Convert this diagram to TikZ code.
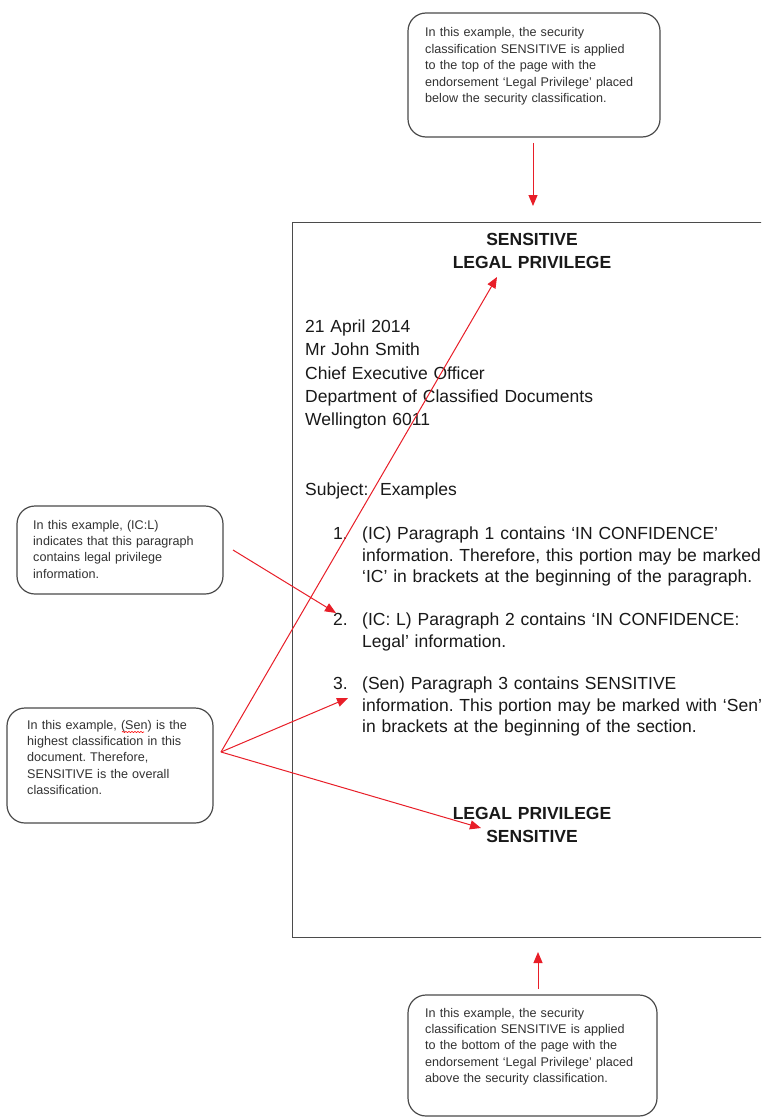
\documentclass[tikz,border=0pt]{standalone}
\usepackage{fontspec}
\setmainfont{Liberation Sans}
\usetikzlibrary{arrows.meta,decorations.pathmorphing}

\definecolor{arrowred}{RGB}{232,30,40}
\definecolor{boxline}{RGB}{75,75,75}
\definecolor{notetext}{RGB}{50,50,50}
\definecolor{bodytext}{RGB}{25,25,25}

\begin{document}
\frenchspacing
\begin{tikzpicture}[x=1pt,y=-1pt,
  note/.style={draw=boxline, line width=1.2pt, rounded corners=18pt, inner sep=0pt},
  notetxt/.style={anchor=base west, inner sep=0pt, align=left, text width=300pt,
    text=notetext, font=\fontsize{12.6}{16.4}\selectfont},
  body/.style={anchor=base west, inner sep=0pt, align=left, text width=440pt,
    text=bodytext, font=\fontsize{17.5}{23.3}\selectfont},
  listtxt/.style={body, font=\fontsize{17.5}{21.6}\selectfont},
  marking/.style={anchor=base, inner sep=0pt, align=center, text width=300pt,
    text=bodytext, font=\fontsize{17.5}{23}\selectfont\bfseries},
  pageframe/.style={draw=boxline, line width=1.3pt, inner sep=0pt, anchor=north west},
  redarrow/.style={draw=arrowred, line width=1pt, -{Triangle[length=11pt,width=9pt]}},
]
\useasboundingbox (0,0) rectangle (761,1118);
\fill[white] (0,0) rectangle (761,1118);
\clip (0,0) rectangle (761,1118);

% the letter page, running off the right edge
\node[pageframe, minimum width=490pt, minimum height=715pt] (page) at (292,222) {};

% security classification and endorsement at the top
\node[marking] (topmark) at (532,245) {SENSITIVE\\LEGAL PRIVILEGE};

% address block
\node[body] (address) at (305,332.5) {21 April 2014\\Mr John Smith\\Chief Executive Officer\\Department of Classified Documents\\Wellington 6011};

\node[body] (subject) at (305,495.5) {Subject:\ \ Examples};

% numbered paragraphs
\node[body] (num1) at (333,539.5) {1.};
\node[listtxt] (para1) at (362,539.5) {(IC) Paragraph 1 contains ‘IN CONFIDENCE’\\information. Therefore, this portion may be marked\\‘IC’ in brackets at the beginning of the paragraph.};
\node[body] (num2) at (333,625.5) {2.};
\node[listtxt] (para2) at (362,625.5) {(IC: L) Paragraph 2 contains ‘IN CONFIDENCE:\\Legal’ information.};
\node[body] (num3) at (333,689.5) {3.};
\node[listtxt] (para3) at (362,689.5) {(Sen) Paragraph 3 contains SENSITIVE\\information. This portion may be marked with ‘Sen’\\in brackets at the beginning of the section.};

% endorsement and classification at the bottom
\node[marking] (botmark) at (532,819) {LEGAL PRIVILEGE\\SENSITIVE};

% explanatory callouts
\node[note, minimum width=252pt, minimum height=124pt] (topnote) at (534,75) {};
\node[notetxt] (topnotetext) at (425,37) {In this example, the security\\classification SENSITIVE is applied\\to the top of the page with the\\endorsement ‘Legal Privilege’ placed\\below the security classification.};

\node[note, minimum width=206pt, minimum height=88pt] (icnote) at (120,550) {};
\node[notetxt] (icnotetext) at (33,529) {In this example, (IC:L)\\indicates that this paragraph\\contains legal privilege\\information.};

\node[note, minimum width=206pt, minimum height=115pt] (sennote) at (110,765.5) {};
\node[notetxt] (sennotetext) at (27,729) {In this example, (Sen) is the\\highest classification in this\\document. Therefore,\\SENSITIVE is the overall\\classification.};

\node[note, minimum width=249pt, minimum height=121pt] (botnote) at (532.5,1055.5) {};
\node[notetxt] (botnotetext) at (425,1017) {In this example, the security\\classification SENSITIVE is applied\\to the bottom of the page with the\\endorsement ‘Legal Privilege’ placed\\above the security classification.};

% spell-check squiggle under "Sen"
\coordinate (senL) at (122,732);
\coordinate (senR) at (144,732);
\draw[red, line width=0.6pt, decorate, decoration={snake, amplitude=0.6pt, segment length=3pt}] (senL) -- (senR);

% arrow end points
\coordinate (topfrom) at (533,143);
\coordinate (topto) at (533,206);
\coordinate (botfrom) at (538,989);
\coordinate (botto) at (538,952);
\coordinate (icfrom) at (233,550);
\coordinate (icto) at (336,613);
\coordinate (senfrom) at (221,752);
\coordinate (hdrto) at (497,277);
\coordinate (p3to) at (348,698);
\coordinate (ftrto) at (481,828);

\draw[redarrow] (topfrom) -- (topto);
\draw[redarrow] (botfrom) -- (botto);
\draw[redarrow] (icfrom) -- (icto);
\draw[redarrow] (senfrom) -- (hdrto);
\draw[redarrow] (senfrom) -- (p3to);
\draw[redarrow] (senfrom) -- (ftrto);
\end{tikzpicture}
\end{document}
